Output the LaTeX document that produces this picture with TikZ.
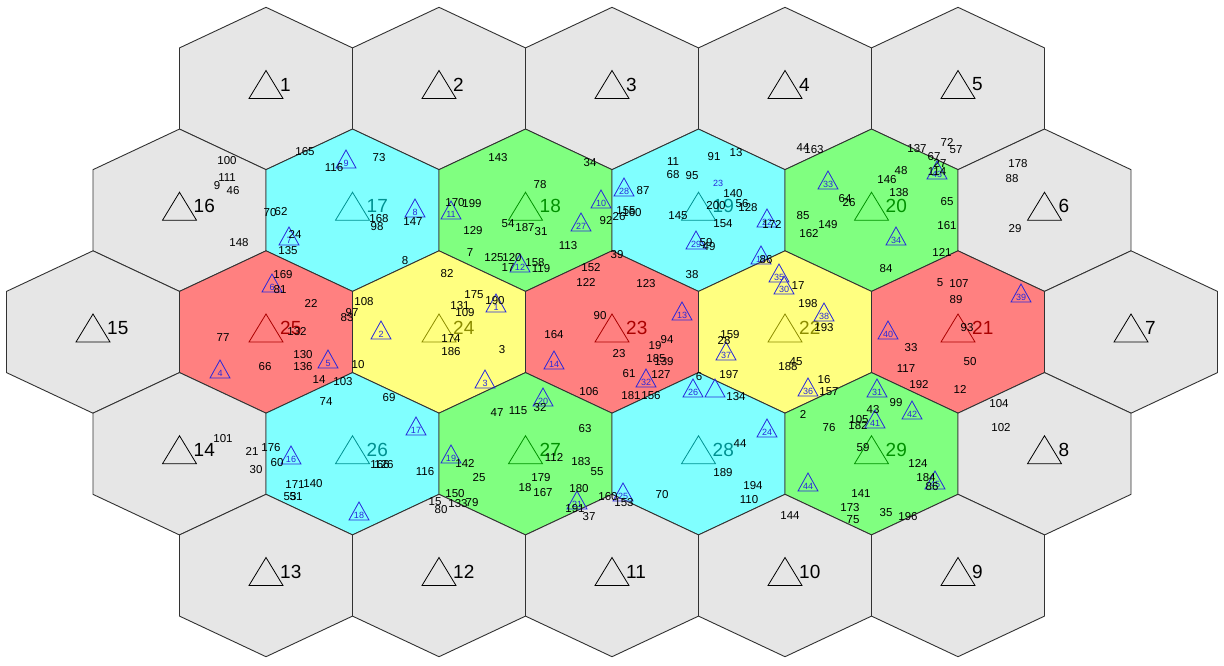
\documentclass[tikz,border=0pt]{standalone}
\usepackage{fontspec}
\setmainfont{Liberation Sans}
\definecolor{cgray}{RGB}{230,230,230}
\definecolor{ccyan}{RGB}{128,255,255}
\definecolor{cgreen}{RGB}{128,255,128}
\definecolor{cred}{RGB}{255,128,128}
\definecolor{cyel}{RGB}{255,255,128}
\definecolor{lcyan}{RGB}{0,145,145}
\definecolor{lgreen}{RGB}{0,145,0}
\definecolor{lred}{RGB}{170,0,0}
\definecolor{lyel}{RGB}{140,140,0}
\definecolor{ublue}{RGB}{40,40,220}
\definecolor{hexline}{RGB}{50,50,50}
\tikzset{
  hexcell/.style={draw=hexline, line width=0.9pt},
  biglab/.style={font=\fontsize{19}{19}\selectfont, inner sep=0pt},
  num/.style={font=\fontsize{11.5}{11.5}\selectfont, text=black, inner sep=0pt},
  utline/.style={draw=ublue, line width=0.8pt},
  utlab/.style={font=\fontsize{9}{9}\selectfont, text=ublue, inner sep=0pt},
  ut/.pic={\draw[utline] (0,-9) -- (10,9) -- (-10,9) -- cycle; \node[utlab] at (0,4.5) {#1};}
}
\begin{document}
\begin{tikzpicture}[x=1pt,y=-1pt]
\fill[white] (0,0) rectangle (1224,665);
\useasboundingbox (0,0) rectangle (1224,665);
\def\hexlist{266/88.5/cgray/black/1, 439/88.5/cgray/black/2, 612/88.5/cgray/black/3, 785/88.5/cgray/black/4, 958/88.5/cgray/black/5,
179.5/210.25/cgray/black/16, 352.5/210.25/ccyan/lcyan/17, 525.5/210.25/cgreen/lgreen/18, 698.5/210.25/ccyan/lcyan/19, 871.5/210.25/cgreen/lgreen/20, 1044.5/210.25/cgray/black/6,
93/332/cgray/black/15, 266/332/cred/lred/25, 439/332/cyel/lyel/24, 612/332/cred/lred/23, 785/332/cyel/lyel/22, 958/332/cred/lred/21, 1131/332/cgray/black/7,
179.5/453.75/cgray/black/14, 352.5/453.75/ccyan/lcyan/26, 525.5/453.75/cgreen/lgreen/27, 698.5/453.75/ccyan/lcyan/28, 871.5/453.75/cgreen/lgreen/29, 1044.5/453.75/cgray/black/8,
266/575.5/cgray/black/13, 439/575.5/cgray/black/12, 612/575.5/cgray/black/11, 785/575.5/cgray/black/10, 958/575.5/cgray/black/9}
% hexagons
\foreach \cx/\cy/\f/\c/\l in \hexlist {
  \filldraw[hexcell, fill=\f] (\cx,\cy-81.2) -- (\cx+86.5,\cy-40.6) -- (\cx+86.5,\cy+40.6) -- (\cx,\cy+81.2) -- (\cx-86.5,\cy+40.6) -- (\cx-86.5,\cy-40.6) -- cycle;
}
% base stations
\foreach \cx/\cy/\f/\c/\l in \hexlist {
  \draw[draw=\c, line width=0.8pt] (\cx,\cy-18) -- (\cx+17,\cy+10) -- (\cx-17,\cy+10) -- cycle;
  \node[biglab, text=\c, anchor=west] (h\l) at (\cx+14,\cy-4) {\l};
}
% user triangles
\foreach \x/\y/\t in {346/159/9, 289/236/7, 415/208/8, 451/210/11, 601/199/10, 581/222/27, 520/263/12, 624/187/28, 696/240/29, 767/218/22, 761/255/15, 828/180/33, 937/170/43, 896/236/34, 272/283/6, 381/330/2, 328/359/5, 220/369/4, 496/303/1, 485/379/3, 554/360/14, 543/397/20, 682/311/13, 646/378/32, 693/388/26, 779/273/35, 784/285/30, 824/312/38, 726/351/37, 808/387/36, 1021/293/39, 888/330/40, 877/388/31, 291/455/16, 359/511/18, 416/426/17, 451/454/19, 577/500/21, 623/492/25, 767/428/24, 808/482/44, 875/419/41, 912/410/42, 935/480/45}
  \pic at (\x,\y) {ut=\t};
\draw[utline] (715,379) -- (725,397) -- (705,397) -- cycle;
\node[utlab] (t23) at (718,183) {23};
% user numbers
\foreach \x/\y/\t in {
227/161/100, 227/178/111, 217/186/9, 233/191/46, 239/243/148,
305/152/165, 334/168/116, 379/158/73, 379/219/168, 377/227/98, 270/213/70, 281/212/62, 295/234/24, 288/251/135,
498/158/143, 590/163/34, 540/185/78, 455/203/170, 472/204/199, 413/222/147, 508/224/54, 525/228/187, 541/232/31, 473/231/129, 568/246/113, 606/221/92, 470/253/7, 405/261/8, 494/258/125, 512/258/120, 508/268/17, 535/263/158, 541/269/119,
673/162/11, 673/175/68, 692/176/95, 714/157/91, 736/153/13, 643/191/87, 733/194/140, 716/206/200, 742/204/56, 748/208/128, 678/216/145, 723/224/154, 772/224/172, 619/217/26, 626/211/155, 632/213/160, 706/243/59, 709/247/49, 692/275/38,
803/148/44, 814/150/163,
917/149/137, 947/142/72, 956/150/57, 934/157/67, 940/163/27, 937/172/114, 901/171/48, 887/180/146, 899/193/138, 845/199/64, 849/203/26, 947/202/65, 947/226/161, 942/252/121, 803/216/85, 809/234/162, 828/225/149, 886/269/84, 766/260/86,
1018/164/178, 1012/179/88, 1015/229/29,
283/275/169, 280/290/81, 311/303/22, 364/302/108, 352/313/97, 347/318/83, 297/332/132, 223/338/77, 303/355/130, 303/367/136, 265/367/66, 358/365/10, 319/380/14, 343/382/103,
326/402/74, 389/398/69,
447/274/82, 474/295/175, 460/306/131, 495/301/190, 465/313/109, 451/339/174, 451/352/186, 502/350/3,
617/255/39, 591/268/152, 586/282/122, 646/284/123, 600/316/90, 554/335/164, 589/392/106, 667/340/94, 655/346/19, 619/354/23, 656/359/185, 664/362/139, 629/374/61, 661/374/127, 631/396/181, 651/396/156,
699/377/6, 736/397/134, 729/375/197, 730/335/159, 724/341/28, 798/286/17, 808/304/198, 824/328/193, 788/367/188, 796/362/45, 824/380/16, 829/392/157,
940/283/5, 959/284/107, 956/300/89, 967/328/93, 911/348/33, 970/362/50, 906/369/117, 919/385/192, 960/389/12,
999/404/104, 1001/428/102,
223/439/101, 252/451/21, 256/470/30,
271/448/176, 277/463/60, 380/465/166, 384/465/126, 295/485/171, 313/484/140, 290/497/53, 296/497/51,
497/413/47, 518/411/115, 540/408/32, 585/429/63, 554/457/112, 465/463/142, 581/462/183, 597/472/55, 425/472/116, 479/478/25, 541/478/179, 525/488/18, 543/493/167, 579/489/180, 455/494/150, 435/502/15, 441/510/80, 458/504/133, 472/503/79, 575/509/191, 589/517/37, 608/497/160,
624/503/153, 662/495/70, 740/444/44, 723/473/189, 753/486/194, 749/500/110, 790/516/144, 803/414/2,
829/428/76, 873/410/43, 859/420/105, 858/426/182, 896/403/99, 863/448/59, 918/463/124, 926/478/184, 932/487/86, 861/494/141, 850/508/173, 853/520/75, 886/513/35, 908/517/196}
  \node[num] (n\t) at (\x,\y) {\t};
\end{tikzpicture}
\end{document}
